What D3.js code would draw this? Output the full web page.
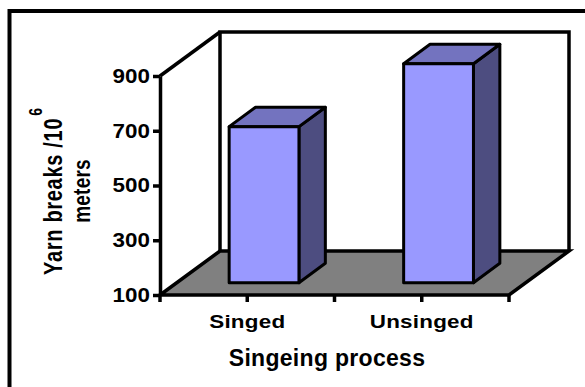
<!DOCTYPE html>
<html>
<head>
<meta charset="utf-8">
<script src="https://cdn.jsdelivr.net/npm/d3@7"></script>
<style>
  html, body { margin: 0; padding: 0; background: #fff; }
  svg { display: block; }
  text { font-family: "Liberation Sans", Arial, sans-serif; font-weight: bold; fill: #000; }
</style>
</head>
<body>
<svg id="chart" width="585" height="387"></svg>
<script>
// Yarn breaks per 10^6 meters by singeing process
const categories = ["Singed", "Unsinged"];
const breaks = [670, 900];
const yTicks = [100, 300, 500, 700, 900];
const yDomain = [100, 900];
const xTitle = "Singeing process";
const yTitle = ["Yarn breaks /10", "meters"];

const W = 585, H = 387;
const svg = d3.select("#chart");

// front plane of the plot and 3D depth vector
const front = { left: 160, right: 509, top: 76, bottom: 295 };
const depth = { dx: 60, dy: -44 };
const barDepth = [0.28, 0.72];   // bar position inside the floor depth

const x = d3.scaleBand().domain(categories).range([front.left, front.right]);
const y = d3.scaleLinear().domain(yDomain).range([front.bottom, front.top]);

// outer frame
svg.append("rect")
  .attr("x", 9.5).attr("y", 11)
  .attr("width", W + 20).attr("height", H + 20)
  .attr("fill", "none").attr("stroke", "#000").attr("stroke-width", 4);

const line = d3.line();
const yTopBack = y(yDomain[1]) + depth.dy;
const yBotBack = y(yDomain[0]) + depth.dy;

// back wall
svg.append("path")
  .attr("d", line([
    [front.left + depth.dx, yBotBack],
    [front.left + depth.dx, yTopBack],
    [front.right + depth.dx, yTopBack],
    [front.right + depth.dx, yBotBack]
  ]))
  .attr("fill", "#fff").attr("stroke", "#000").attr("stroke-width", 3.5)
  .attr("stroke-linejoin", "miter");

// side wall top edge
svg.append("path")
  .attr("d", line([[front.left, y(yDomain[1])], [front.left + depth.dx, yTopBack]]))
  .attr("stroke", "#000").attr("stroke-width", 3.5).attr("fill", "none");

// floor
svg.append("path")
  .attr("d", line([
    [front.left, y(yDomain[0])],
    [front.left + depth.dx, yBotBack],
    [front.right + depth.dx, yBotBack],
    [front.right, y(yDomain[0])]
  ]) + "Z")
  .attr("fill", "#808080").attr("stroke", "#000").attr("stroke-width", 3.5)
  .attr("stroke-linejoin", "miter");

// bars
const bw = x.bandwidth();
const barW = bw * 0.4;
const off0 = { dx: depth.dx * barDepth[0], dy: depth.dy * barDepth[0] };
const dd = { dx: depth.dx * (barDepth[1] - barDepth[0]), dy: depth.dy * (barDepth[1] - barDepth[0]) };

const bars = svg.append("g").selectAll("g")
  .data(categories.map((c, i) => ({ c, v: breaks[i] })))
  .join("g")
  .attr("stroke", "#000").attr("stroke-width", 3).attr("stroke-linejoin", "round");

bars.each(function (d) {
  const g = d3.select(this);
  const x0 = x(d.c) + bw * 0.3 + off0.dx;
  const x1 = x0 + barW;
  const yt = y(d.v) + off0.dy;
  const yb = y(yDomain[0]) + off0.dy;
  // side face
  g.append("path")
    .attr("d", line([[x1, yt], [x1 + dd.dx, yt + dd.dy], [x1 + dd.dx, yb + dd.dy], [x1, yb]]) + "Z")
    .attr("fill", "#4D4D80");
  // top face
  g.append("path")
    .attr("d", line([[x0, yt], [x0 + dd.dx, yt + dd.dy], [x1 + dd.dx, yt + dd.dy], [x1, yt]]) + "Z")
    .attr("fill", "#7373BF");
  // front face
  g.append("path")
    .attr("d", line([[x0, yt], [x1, yt], [x1, yb], [x0, yb]]) + "Z")
    .attr("fill", "#9999FF");
});

// value axis on the front-left edge
const yAxis = svg.append("g")
  .attr("transform", `translate(${front.left},0)`)
  .call(d3.axisLeft(y).tickValues(yTicks).tickSize(7).tickSizeOuter(0).tickPadding(2));
yAxis.select(".domain").attr("stroke", "#000").attr("stroke-width", 3.5);
yAxis.selectAll(".tick line").attr("stroke", "#000").attr("stroke-width", 3.5);
yAxis.selectAll(".tick text")
  .attr("font-size", 20).attr("font-family", "Liberation Sans, Arial, sans-serif")
  .attr("font-weight", "bold").attr("fill", "#000")
  .attr("transform", "scale(1.12,1)");

// category axis along the front floor edge
const xTickPos = [];
categories.forEach(c => { xTickPos.push(x(c)); xTickPos.push(x(c) + bw / 2); });
xTickPos.push(front.right);
svg.append("g").selectAll("line")
  .data(xTickPos)
  .join("line")
  .attr("x1", d => d).attr("x2", d => d)
  .attr("y1", front.bottom).attr("y2", front.bottom + 7)
  .attr("stroke", "#000").attr("stroke-width", 3.5);

svg.append("g").selectAll("text")
  .data(categories)
  .join("text")
  .attr("transform", d => `translate(${x(d) + bw / 2},328) scale(1.18,1)`)
  .attr("text-anchor", "middle")
  .attr("font-size", 19)
  .attr("letter-spacing", 0.2)
  .text(d => d);

// axis titles
svg.append("text")
  .attr("x", 327).attr("y", 366)
  .attr("text-anchor", "middle")
  .attr("font-size", 23)
  .attr("letter-spacing", 0.3)
  .text(xTitle);

// rotated value-axis title, widened across the line
const yScaleT = 1.25;
const yt1 = svg.append("text")
  .attr("transform", `rotate(-90) scale(1,${yScaleT})`)
  .attr("x", -275).attr("y", 62 / yScaleT)
  .attr("font-size", 20)
  .attr("letter-spacing", 0.7);
yt1.append("tspan").text(yTitle[0]);
yt1.append("tspan").attr("font-size", 14).attr("dy", -16).attr("dx", 2).text("6");

svg.append("text")
  .attr("transform", `rotate(-90) scale(1,${yScaleT})`)
  .attr("x", -191).attr("y", 90 / yScaleT)
  .attr("text-anchor", "middle")
  .attr("font-size", 19)
  .attr("letter-spacing", 0.2)
  .text(yTitle[1]);
</script>
</body>
</html>
